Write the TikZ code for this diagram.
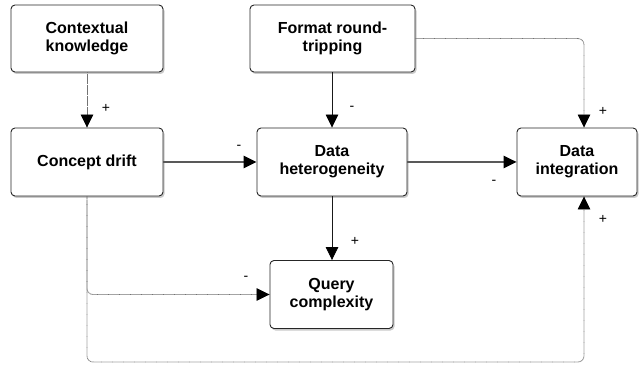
\documentclass[tikz,border=0pt]{standalone}
\usepackage{fontspec}
\setmainfont{Liberation Sans}
\usetikzlibrary{arrows.meta,shadows}
\tikzset{
  box/.style={draw=black!85, line width=0.9pt, rounded corners=4pt, fill=white,
    align=center, font=\fontsize{16}{18}\selectfont\bfseries, inner sep=0pt,
    drop shadow={shadow xshift=1.5pt, shadow yshift=-2pt, opacity=0.35, fill=black!60}},
  tip/.style={-{Triangle[length=13pt,width=12.5pt,black]}},
  solidthin/.style={tip, draw=black!90, line width=0.8pt},
  solidthick/.style={tip, draw=black!65, line width=1.6pt},
  dotline/.style={tip, draw=black!55, line width=0.8pt, dash pattern=on 0.6pt off 0.5pt, rounded corners=6pt},
  sign/.style={font=\fontsize{14}{14}\selectfont, inner sep=0pt}
}
\begin{document}
\begin{tikzpicture}[x=1pt,y=-1pt]
\useasboundingbox (0,0) rectangle (642,366);
\node[box, minimum width=152pt, minimum height=67pt] (ck) at (87,38.5) {Contextual\\knowledge};
\node[box, minimum width=165pt, minimum height=67pt] (fr) at (332.5,38.5) {Format round-\\tripping};
\node[box, minimum width=152pt, minimum height=68pt] (cd) at (87,162) {Concept drift};
\node[box, minimum width=150pt, minimum height=68pt] (dh) at (332,162) {Data\\heterogeneity};
\node[box, minimum width=120pt, minimum height=68pt] (di) at (577,162) {Data\\integration};
\node[box, minimum width=123pt, minimum height=68pt] (qc) at (331.5,294.5) {Query\\complexity};
\coordinate (bot) at (0,362);
\draw[dotline] (ck) -- (cd);
\draw[solidthick] (cd) -- (dh);
\draw[solidthin] (dh.north |- fr.south) -- (dh.north);
\draw[dotline] (fr.east) -| ([xshift=7pt]di.north);
\draw[solidthick] (dh) -- (di);
\draw[solidthin] (dh.south) -- (dh.south |- qc.north);
\draw[dotline] (cd.south) |- (qc.west);
\draw[dotline] (cd.south) -- (cd.south |- bot) -| ([xshift=7pt]di.south);
\node[sign] (l1) at (106,108) {+};
\node[sign] (l2) at (239,147) {-};
\node[sign] (l3) at (352,108) {-};
\node[sign] (l4) at (603,111) {+};
\node[sign] (l5) at (494,182) {-};
\node[sign] (l6) at (355,241) {+};
\node[sign] (l7) at (246,278) {-};
\node[sign] (l8) at (603,219) {+};
\end{tikzpicture}
\end{document}
